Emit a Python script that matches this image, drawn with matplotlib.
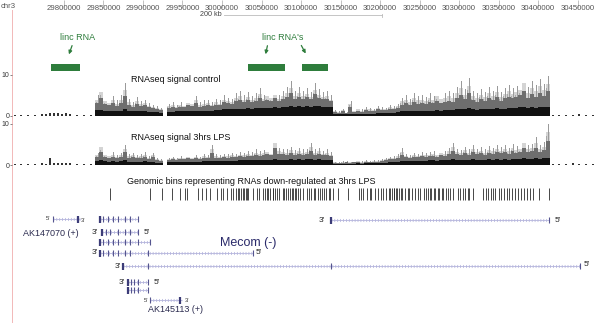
import matplotlib
matplotlib.use('Agg')
import matplotlib.pyplot as plt
import numpy as np

plt.rcParams['font.family'] = ['Liberation Sans', 'DejaVu Sans']

# Inputs
# ---------------------------------------------------------------------------
chrom = 'chr3'
ruler_kb = [29800, 29850, 29900, 29950, 30000, 30050, 30100, 30150,
            30200, 30250, 30300, 30350, 30400, 30450]
scale_kb = 200

# RNAseq signal, 5 kb bins starting at 29840 kb (peak and dense base level)
bin_start_kb = 29840
bin_kb = 5
ctrl_peak = [5.0, 7.2, 4.5, 4.0, 4.8, 3.8, 5.0, 8.0, 4.2, 3.5, 4.6, 3.6, 4.0, 3.2, 2.8, 2.5, 2.0, 0.0,
             3.0, 3.3, 2.8, 3.5, 3.0, 4.0, 3.6, 4.9, 3.4, 3.8, 4.0, 3.5, 4.2, 3.8, 5.0, 4.5, 4.2, 5.5,
             6.0, 5.0, 5.8, 4.8, 5.5, 6.8, 5.2, 6.0, 5.5, 6.5, 5.2, 6.0, 7.0, 8.5, 6.2, 7.0, 6.0, 6.8,
             5.8, 8.0, 6.5, 5.8, 6.2, 5.0,
             1.5, 1.2, 1.8, 1.0, 3.7, 1.5, 2.0, 1.6, 2.2, 2.0, 1.8, 2.5, 2.2, 2.0, 2.8, 2.4,
             3.0, 4.5, 5.0, 4.2, 5.6, 4.8, 5.0, 4.6, 5.5, 4.8, 6.0, 5.2, 5.6, 6.0, 5.5, 7.0, 8.5, 6.5,
             9.2, 6.0, 5.5, 6.5, 5.8, 7.0, 6.0, 7.3, 5.8, 6.8, 7.5, 6.8, 7.2, 8.0, 10.0, 7.0, 8.5, 7.5,
             9.0, 7.8, 9.8]
ctrl_base = [1.4, 1.5, 1.3, 1.2, 1.3, 1.2, 1.3, 1.6, 1.2, 1.1, 1.2, 1.1, 1.2, 1.0, 1.0, 0.9, 0.8, 0.0,
             1.0, 1.0, 1.1, 1.1, 1.2, 1.2, 1.2, 1.3, 1.2, 1.3, 1.3, 1.3, 1.4, 1.5, 1.6, 1.6, 1.6, 1.7,
             1.8, 1.8, 1.9, 1.8, 1.9, 2.0, 1.9, 2.0, 2.0, 2.1, 2.0, 2.2, 2.3, 2.5, 2.3, 2.4, 2.3, 2.4,
             2.3, 2.5, 2.4, 2.3, 2.3, 2.1,
             0.5, 0.4, 0.5, 0.4, 0.6, 0.5, 0.5, 0.5, 0.6, 0.6, 0.6, 0.7, 0.7, 0.7, 0.8, 0.8,
             0.9, 1.1, 1.2, 1.1, 1.3, 1.2, 1.2, 1.2, 1.3, 1.3, 1.4, 1.3, 1.4, 1.5, 1.4, 1.6, 1.8, 1.6,
             1.9, 1.6, 1.5, 1.7, 1.6, 1.8, 1.7, 1.9, 1.7, 1.8, 2.0, 1.9, 2.0, 2.1, 2.3, 2.0, 2.2, 2.0,
             2.2, 2.1, 2.2]
lps_peak = [3.0, 5.4, 3.0, 2.6, 3.2, 2.5, 3.0, 4.9, 2.8, 3.0, 2.5, 2.8, 3.2, 2.2, 3.0, 1.8, 1.5, 0.0,
            1.8, 2.0, 1.8, 2.2, 2.0, 2.5, 2.2, 2.4, 2.0, 2.6, 2.4, 4.9, 2.6, 2.5, 2.8, 2.6, 3.0, 2.8,
            3.2, 3.0, 3.5, 3.2, 3.8, 3.4, 3.6, 4.0, 3.5, 6.8, 4.2, 4.0, 3.8, 4.5, 3.6, 4.2, 3.8, 4.0,
            5.4, 3.8, 4.2, 3.5, 3.8, 3.2,
            0.8, 0.7, 0.9, 1.0, 0.8, 1.0, 1.2, 0.9, 1.2, 1.0, 1.3, 1.2, 1.5, 1.8, 2.0, 2.2,
            2.6, 4.1, 2.8, 2.5, 3.0, 2.8, 3.2, 3.0, 3.2, 3.5, 3.0, 3.8, 3.4, 4.2, 5.4, 4.0, 3.6, 4.5,
            3.8, 4.8, 4.0, 4.4, 3.8, 4.6, 4.2, 5.0, 4.4, 4.8, 4.2, 5.2, 4.6, 5.0, 6.8, 4.8, 5.2, 6.8,
            5.0, 5.6, 10.0]
lps_base = [0.9, 1.1, 0.9, 0.8, 0.9, 0.8, 0.9, 1.2, 0.8, 0.8, 0.8, 0.8, 0.9, 0.7, 0.8, 0.6, 0.5, 0.0,
            0.7, 0.7, 0.7, 0.8, 0.8, 0.8, 0.8, 0.8, 0.8, 0.9, 0.9, 1.0, 0.9, 0.9, 1.0, 1.0, 1.0, 1.0,
            1.1, 1.1, 1.1, 1.1, 1.2, 1.1, 1.2, 1.2, 1.2, 1.4, 1.3, 1.3, 1.3, 1.4, 1.3, 1.4, 1.3, 1.4,
            1.5, 1.3, 1.4, 1.3, 1.3, 1.2,
            0.3, 0.3, 0.3, 0.3, 0.3, 0.3, 0.4, 0.3, 0.4, 0.4, 0.4, 0.4, 0.5, 0.6, 0.7, 0.7,
            0.8, 1.0, 0.9, 0.9, 1.0, 1.0, 1.0, 1.0, 1.1, 1.1, 1.0, 1.2, 1.1, 1.2, 1.4, 1.2, 1.2, 1.3,
            1.2, 1.4, 1.3, 1.3, 1.2, 1.4, 1.3, 1.4, 1.3, 1.4, 1.3, 1.5, 1.4, 1.5, 1.7, 1.5, 1.5, 1.7,
            1.5, 1.6, 1.8]

# weak signal outside the gene body
flank_kb = [29736.9, 29744.5, 29753.3, 29762.2, 29771.0, 29776.1, 29781.2, 29786.2, 29791.3,
            29796.3, 29801.4, 29806.5, 29815.3, 29824.2, 29833.0,
            30417.5, 30425.0, 30433.9, 30442.8, 30450.3, 30459.2, 30468.1]
ctrl_flank = [0.3, 0.3, 0.3, 0.3, 0.6, 0.5, 0.8, 0.7, 0.8, 0.6, 0.7, 0.5, 0.3, 0.3, 0.3,
              0.3, 0.3, 0.3, 0.3, 0.5, 0.3, 0.3]
lps_flank = [0.3, 0.3, 0.3, 0.3, 0.4, 0.3, 1.7, 0.4, 0.5, 0.4, 0.5, 0.4, 0.3, 0.3, 0.3,
             0.3, 0.3, 0.3, 0.4, 0.3, 0.3, 0.3]

# genomic bins representing RNAs down-regulated at 3hrs LPS
down_bins_kb = [29858, 29909, 29924, 29937, 29947, 29953, 29956, 29970, 29975, 29980, 29985,
                29994, 29999, 30001, 30006, 30011, 30014, 30018, 30020, 30022, 30024, 30026,
                30028, 30030, 30032, 30033, 30039, 30044, 30047, 30052, 30055, 30057, 30058,
                30061, 30064, 30065, 30067, 30070, 30072, 30077, 30079, 30081, 30084, 30086,
                30088, 30090, 30093, 30094, 30096, 30099, 30103, 30108, 30110, 30113, 30116,
                30118, 30121, 30124, 30127, 30129, 30132, 30135, 30137, 30140, 30147, 30159,
                30173, 30176, 30179, 30183, 30187, 30189, 30193, 30197, 30201, 30204, 30208,
                30211, 30213, 30215, 30217, 30218, 30220, 30222, 30224, 30226, 30228, 30232,
                30235, 30237, 30241, 30244, 30248, 30251, 30255, 30258, 30260, 30263, 30265,
                30268, 30270, 30273, 30275, 30278, 30280, 30283, 30286, 30288, 30292, 30298,
                30301, 30305, 30307, 30311, 30313, 30317, 30330, 30334, 30336, 30340, 30343,
                30346, 30350, 30353, 30357, 30360, 30363, 30367, 30371, 30374, 30378, 30382,
                30386, 30390, 30393, 30401, 30414]

# linc RNAs
linc_start_kb = [29783.7, 30032.9, 30101.2]
linc_end_kb = [29820.4, 30079.7, 30134.1]

# transcripts: AK147070 (+), Mecom (-) isoforms, AK145113 (+)
tx_start_kb = [29786.2, 29845.7, 30137.9, 29848.2, 29845.7, 29845.7, 29874.8, 29881.1, 29881.1, 29909.0]
tx_end_kb = [29820.4, 29893.8, 30413.7, 29893.8, 29909.0, 30039.2, 30452.9, 29906.4, 29906.4, 29949.4]
tx_exons_kb = [
    [29786.2],
    [29845.7, 29849.5, 29855.8, 29862.1, 29868.5, 29877.3, 29883.7, 29893.8],
    [30413.7],
    [29853.3, 29858.4, 29868.5, 29877.3, 29883.7, 29893.8],
    [29849.5, 29855.8, 29862.1, 29868.5, 29877.3, 29883.7, 29893.8, 29909.0],
    [29849.5, 29855.8, 29862.1, 29868.5, 29877.3, 29883.7, 29906.4, 30039.2],
    [29906.4, 30137.9, 30452.9],
    [29884.9, 29888.7, 29893.8, 29906.4],
    [29884.9, 29888.7, 29893.8, 29906.4],
    [29909.0],
]
tx_thick_kb = [29817.9, 29845.7, 30137.9, 29848.2, 29845.7, 29845.7, 29874.8, 29881.1, 29881.1, 29946.9]

# Layout (pixel rows of the 600x323 browser image)
# ---------------------------------------------------------------------------
W, H = 600, 323
KB0 = 29719.2          # kb at left edge
KB_PX = 1.265          # kb per pixel
TRACK_X = 12           # left edge of the signal tracks, px
tx_row_y = [219, 219, 220, 232, 242, 253, 266, 282, 290, 300]
GREEN = '#2e7d3c'
LINE_C = '#b4b4dc'
EXON_C = '#55558f'


def kb_at(px):
    return KB0 + px * KB_PX


fig = plt.figure(figsize=(W / 100, H / 100), dpi=100)
fig.patch.set_facecolor('white')

# main canvas: x in kb, y in pixel rows
ax = fig.add_axes([0, 0, 1, 1])
ax.set_xlim(kb_at(0), kb_at(W))
ax.set_ylim(H, 0)
for s in ax.spines.values():
    s.set_visible(False)
ax.set_yticks([])
ax.set_xticks(ruler_kb)
ax.set_xticklabels([str(k * 1000) for k in ruler_kb])
ax.tick_params(axis='x', top=True, labeltop=True, bottom=False, labelbottom=False,
               direction='in', length=6, width=0.5, color='#aaaaaa', pad=-8.5,
               labelsize=5.6, labelcolor='#555555')

ax.text(kb_at(1), 6, chrom, fontsize=5.6, color='#555555', va='center', ha='left')
ax.axvline(kb_at(12), ymin=0, ymax=1 - 10 / H, color='#f2b8b8', lw=0.7)

# scale bar
ax.plot([kb_at(224), kb_at(224) + scale_kb], [15, 15], color='#bbbbbb', lw=0.6)
ax.plot([kb_at(224) + scale_kb] * 2, [13.5, 16.5], color='#bbbbbb', lw=0.6)
ax.text(kb_at(222), 15, '%d kb' % scale_kb, fontsize=5.2, color='#444444', ha='right', va='center')

# linc RNAs
for s, e in zip(linc_start_kb, linc_end_kb):
    ax.fill_between([s, e], 63.5, 70.5, color=GREEN, lw=0)
ax.text(kb_at(78), 38, 'linc RNA', fontsize=6.5, color=GREEN, ha='center', va='center')
ax.text(kb_at(283), 38, "linc RNA's", fontsize=6.5, color=GREEN, ha='center', va='center')
arrow = dict(arrowstyle='-|>', color=GREEN, lw=0.9, mutation_scale=5)
ax.annotate('', xy=(kb_at(68), 57), xytext=(kb_at(73), 43), arrowprops=arrow)
ax.annotate('', xy=(kb_at(265), 57), xytext=(kb_at(268), 43), arrowprops=arrow)
ax.annotate('', xy=(kb_at(307), 56), xytext=(kb_at(300), 43), arrowprops=arrow)

# signal tracks
edges = np.array([bin_start_kb + i * bin_kb for i in range(len(ctrl_peak))], dtype=float)
tracks = [(116, ctrl_peak, ctrl_base, ctrl_flank, 'RNAseq signal control', 80, 176),
          (165, lps_peak, lps_base, lps_flank, 'RNAseq signal 3hrs LPS', 137, 181)]
for y0, peak, base, flank, title, ty, tx in tracks:
    peak = np.array(peak)
    base = np.array(base)
    tax = fig.add_axes([TRACK_X / W, 1 - y0 / H, (597 - TRACK_X) / W, 41 / H])
    tax.set_xlim(kb_at(TRACK_X), kb_at(597))
    tax.set_ylim(0, 10)
    tax.patch.set_alpha(0)
    for s in tax.spines.values():
        s.set_visible(False)
    tax.set_xticks([])
    tax.set_yticks([0, 10])
    tax.tick_params(axis='y', length=1.5, width=0.5, pad=0.3, labelsize=5.0,
                    color='#555555', labelcolor='#333333')
    # light envelope, thin spikes, darker body, dense base
    tax.bar(edges, peak * 0.8, width=bin_kb, align='edge', color='#d4d4d4', lw=0)
    tax.bar(edges + bin_kb * 0.55, peak, width=bin_kb * 0.22, align='edge', color='#9a9a9a', lw=0)
    tax.bar(edges + bin_kb * 0.1, peak * 0.7, width=bin_kb * 0.18, align='edge', color='#a8a8a8', lw=0)
    tax.bar(edges, (peak + base) / 2, width=bin_kb, align='edge', color='#6e6e6e', lw=0)
    tax.bar(edges, base, width=bin_kb, align='edge', color='#111111', lw=0)
    tax.bar(flank_kb, flank, width=2.2, align='edge', color='#333333', lw=0)
    ax.text(kb_at(tx), ty, title, fontsize=6.5, color='#111111', ha='center', va='center')

# down-regulated bins
ax.text(kb_at(251), 181, 'Genomic bins representing RNAs down-regulated at 3hrs LPS',
        fontsize=6.5, color='#111111', ha='center', va='center')
ax.vlines(down_bins_kb, 188, 200, color='#2a2a2a', lw=0.6)

# transcripts
for i in range(len(tx_start_kb)):
    y = tx_row_y[i]
    s, e = tx_start_kb[i], tx_end_kb[i]
    ax.plot([s, e], [y, y], color=LINE_C, lw=0.6, solid_capstyle='butt')
    ax.plot([s, e], [y, y], color=LINE_C, lw=2.2, dashes=(0.25, 0.7))
    ax.vlines(tx_exons_kb[i], y - 3, y + 3, color=EXON_C, lw=0.8)
    ax.vlines([tx_thick_kb[i]], y - 3.5, y + 3.5, color='#3c3c78', lw=1.6)

small = dict(fontsize=4.2, color='#333333', va='center')
mid = dict(fontsize=6.0, color='#222222', va='center')
ax.text(kb_at(48), 219, "5'", ha='center', **small)
ax.text(kb_at(83), 220, "3'", ha='center', **small)
ax.text(kb_at(51), 233, 'AK147070 (+)', fontsize=6.5, color='#2b2b4f', ha='center', va='center')
ax.text(kb_at(322), 220, "3'", ha='center', **mid)
ax.text(kb_at(558), 221, "5'", ha='center', **mid)
ax.text(kb_at(95), 232, "3'", ha='center', **mid)
ax.text(kb_at(147), 232, "5'", ha='center', **mid)
ax.text(kb_at(95), 253, "3'", ha='center', **mid)
ax.text(kb_at(259), 252, "5'", ha='center', **mid)
ax.text(kb_at(118), 266, "3'", ha='center', **mid)
ax.text(kb_at(587), 265, "5'", ha='center', **mid)
ax.text(kb_at(122), 282, "3'", ha='center', **mid)
ax.text(kb_at(157), 282, "5'", ha='center', **mid)
ax.text(kb_at(146), 300, "5'", ha='center', **small)
ax.text(kb_at(187), 301, "3'", ha='center', **small)
ax.text(kb_at(175), 310, 'AK145113 (+)', fontsize=6.5, color='#2b2b4f', ha='center', va='center')
ax.text(kb_at(248), 243, 'Mecom (-)', fontsize=9, color='#2a2a6a', ha='center', va='center')

plt.savefig('out.png', dpi=100, facecolor='white')
